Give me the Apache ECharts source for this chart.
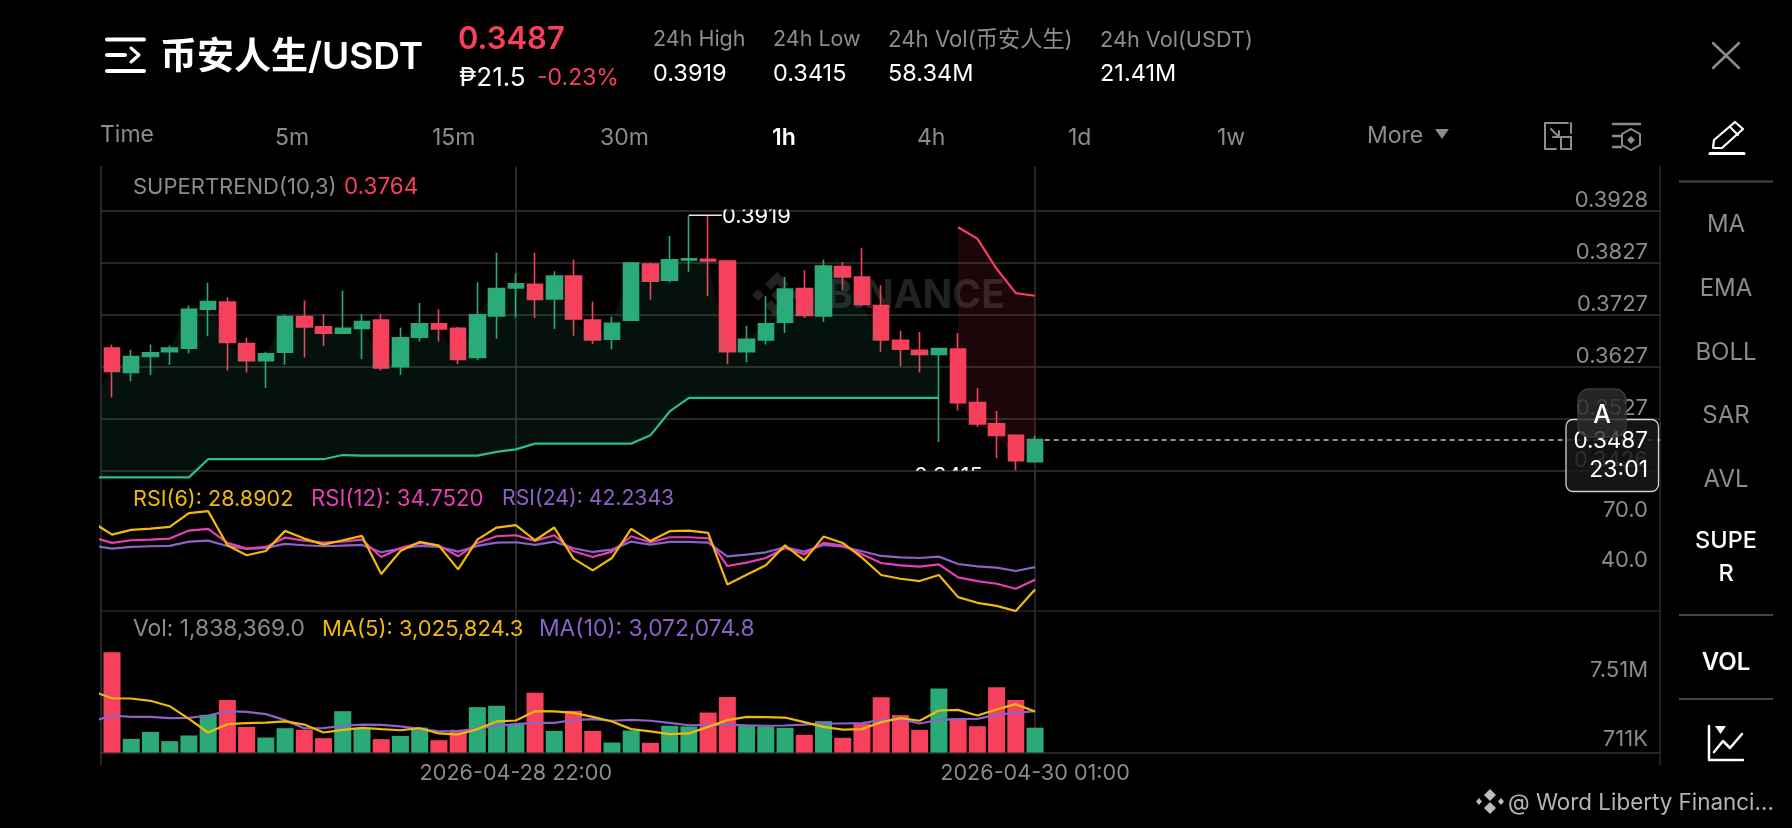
<!DOCTYPE html>
<html><head><meta charset="utf-8">
<style>html,body{margin:0;padding:0;background:#000}#c{width:1792px;height:828px}</style>
<script src="https://cdn.jsdelivr.net/npm/echarts@6/dist/echarts.min.js"></script>
</head><body><div id="c"></div>
<script>
// ---- data ----
const opens  = [.3663,.3616,.3647,.3656,.3663,.3738,.3752,.3672,.3639,.3655,.3724,.3704,.3692,.3701,.3717,.3627,.3684,.3710,.3701,.3645,.3725,.3779,.3786,.3758,.3802,.3717,.3680,.3717,.3825,.3794,.3833,.3834,.3831,.3656,.3679,.3713,.3778,.3725,.3820,.3800,.3745,.3678,.3659,.3651,.3661,.3558,.3517,.3495,.3444];
const closes = [.3618,.3647,.3654,.3663,.3738,.3753,.3674,.3639,.3652,.3724,.3704,.3692,.3701,.3714,.3625,.3683,.3710,.3700,.3641,.3727,.3778,.3787,.3757,.3802,.3719,.3679,.3711,.3827,.3792,.3833,.3835,.3831,.3656,.3680,.3710,.3777,.3726,.3821,.3800,.3747,.3679,.3661,.3651,.3662,.3558,.3517,.3495,.3446,.3487];
const lows   = [.3568,.3599,.3611,.3631,.3653,.3686,.3620,.3616,.3586,.3631,.3645,.3667,.3690,.3642,.3620,.3611,.3676,.3676,.3632,.3640,.3681,.3722,.3721,.3700,.3687,.3671,.3661,.3715,.3756,.3790,.3810,.3763,.3632,.3636,.3670,.3692,.3721,.3714,.3775,.3744,.3656,.3628,.3616,.3482,.3543,.3511,.3451,.3427,.3444];
const highs  = [.3670,.3660,.3670,.3668,.3745,.3789,.3761,.3683,.3656,.3728,.3755,.3729,.3774,.3729,.3729,.3703,.3750,.3738,.3704,.3790,.3847,.3808,.3847,.3811,.3834,.3753,.3724,.3829,.3828,.3879,.3919,.3919,.3832,.3706,.3763,.3800,.3813,.3834,.3829,.3856,.3784,.3697,.3694,.3662,.3692,.3586,.3542,.3497,.3494];
const priorClose = .3572;   // close of the candle just left of the window (index -1)
const trendUp = [.3414,.3414,.3414,.3414,.3414,.3414,.3449,.3449,.3449,.3449,.3449,.3449,.3449,.3457,.3456,.3456,.3456,.3456,.3456,.3456,.3456,.3463,.3468,.3479,.3479,.3479,.3479,.3479,.3479,.3495,.3541,.3567,.3567,.3567,.3567,.3567,.3567,.3567,.3567,.3567,.3567,.3567,.3567,.3567,.3567]; // index -1..43
const trendDown = [.3896,.3874,.3816,.3769,.3764]; // index 44..48
const rsi6  = [68.9,61.7,64.5,65.3,66.3,74.5,75.7,55.3,49.3,51.9,63.9,59.3,55.7,58.3,60.9,38.1,51.9,57.3,55.1,40.9,58.7,65.9,67.3,58.3,65.9,47.3,40.3,47.7,65.1,57.9,63.7,64.1,62.7,31.9,37.7,43.3,55.3,46.3,60.5,56.7,47.9,37.5,35.3,33.9,37.5,24.3,20.9,19.1,16.0,28.89]; // index -1..48
const rsi12 = [60.1,56.7,58.3,58.7,59.3,64.1,65.1,56.7,53.3,54.3,59.9,58.1,56.9,57.5,58.7,48.3,53.7,56.7,55.1,48.7,56.7,60.7,61.3,57.9,61.3,51.7,48.3,51.5,60.7,57.1,60.1,60.1,59.5,42.9,44.9,47.7,53.7,49.9,56.7,55.1,49.9,44.7,43.3,42.5,43.9,36.1,33.9,32.3,29.3,34.75];
const rsi24 = [55.1,53.3,54.3,54.7,54.9,57.5,58.1,54.9,53.1,53.7,56.1,55.3,54.7,55.1,55.5,51.1,53.3,54.9,54.3,51.5,54.9,56.9,57.1,55.5,57.5,53.5,51.3,52.7,57.5,55.7,57.3,57.3,56.9,48.7,49.7,51.1,54.1,51.5,55.5,54.5,51.7,48.9,48.1,47.7,48.5,44.1,42.7,41.9,39.9,42.23];
const volumes = [7.43,1.01,1.53,.84,1.26,2.79,3.88,1.90,1.11,1.80,1.68,1.06,3.06,1.83,.99,1.23,1.85,.91,1.68,3.36,3.46,2.10,4.42,1.60,3.09,1.60,.74,1.63,.72,1.98,1.93,2.96,4.12,2.05,1.93,1.83,1.31,2.32,1.09,2.15,4.10,2.77,1.68,4.74,2.52,1.95,4.84,3.88,1.838];
const volMa5  = [4.52,4.02,4.00,3.83,3.43,2.49,1.48,2.10,2.17,2.22,2.30,2.07,1.48,1.68,1.83,1.73,1.65,1.80,1.41,1.33,1.73,2.30,2.37,3.06,3.04,2.94,2.64,2.30,1.73,1.56,1.36,1.41,1.90,2.40,2.64,2.62,2.59,2.25,1.90,1.70,1.73,2.25,2.54,2.35,3.11,3.16,2.74,3.19,3.58,3.03]; // index -1..48
const volMa10 = [2.32,2.74,2.64,2.64,2.54,2.57,2.74,3.06,3.01,2.84,2.40,1.78,1.80,1.98,2.07,2.05,1.93,1.75,1.56,1.58,1.78,1.95,2.10,2.20,2.20,2.40,2.47,2.35,2.42,2.35,2.20,2.02,2.05,2.07,2.02,1.98,2.00,2.07,2.15,2.15,2.17,2.40,2.47,2.15,2.42,2.47,2.49,2.81,2.94,3.07];
const priceTicks = [.3928,.3827,.3727,.3627,.3527,.3426];
const rsiTicks = [70,40];
const volTicks = [.711,7.51];
const volTickLabels = ['711K','7.51M'];
const timeTicks = {21:'2026-04-28 22:00',48:'2026-04-30 01:00'};
const lastPrice = .3487, highPrice = .3919, lowPrice = .3415;

const headerPeriods = ['Time','5m','15m','30m','1h','4h','1d','1w','More'];
const indicators = ['MA','EMA','BOLL','SAR','AVL'];

// ---- palette ----
const UP='#2BAA78', DOWN='#F6405C', LINE_UP='#2DBE8A', GRAY='#8C8C8C', WHITE='#FFFFFF',
      YEL='#F0B90B', MAG='#E83FB4', PUR='#8A63C8', GRID='#333333', FONT='Inter, "Noto Sans CJK SC", "DejaVu Sans", sans-serif';

const chart = echarts.init(document.getElementById('c'), null, {renderer:'canvas', width:1792, height:828});

const xMin=-0.572, xMax=80.5;
const idxFrom = (a,s) => a.map((v,i)=>[i+s,v]);
const closeExt=[priorClose].concat(closes);
const xTicks=Object.keys(timeTicks).map(Number);

function xAxis(g,extra){return Object.assign({type:'value',gridIndex:g,min:xMin,max:xMax,
  axisTick:{show:false,customValues:xTicks},
  axisLabel:{show:false,customValues:xTicks},
  axisLine:{show:false},
  splitLine:{show:true,lineStyle:{color:GRID,width:1.5}}},extra||{});}
function yAxis(g,min,max,ticks,fmt,extra){return Object.assign({type:'value',gridIndex:g,min,max,position:'right',scale:true,
  axisTick:{show:false,customValues:ticks},
  axisLine:{show:false},
  axisLabel:{inside:true,margin:12,customValues:ticks,formatter:fmt,color:GRAY,fontSize:22,fontFamily:FONT,verticalAlign:'bottom',lineHeight:21,align:'right'},
  splitLine:{show:false}},extra||{});}

// translucent band between two polylines, both read through the axes
function band(lower,upper,start,color){
  return {type:'custom',xAxisIndex:0,yAxisIndex:0,z:3,clip:true,silent:true,
    data:[[start,lower[0]]],
    renderItem(params,api){
      const lo=lower.map((v,i)=>api.coord([i+start,v]));
      const hi=upper.map((v,i)=>api.coord([i+start,v])).reverse();
      return {type:'polygon',shape:{points:lo.concat(hi)},style:{fill:color}};
    }};
}

const series=[
 {type:'candlestick',xAxisIndex:0,yAxisIndex:0,z:2,barWidth:16,clip:true,
  itemStyle:{color:UP,color0:DOWN,borderColor:UP,borderColor0:DOWN,borderWidth:1.6},
  encode:{x:0,y:[1,2,3,4]},
  data:opens.map((o,i)=>[i,o,closes[i],lows[i],highs[i]]),
  markLine:{silent:true,symbol:'none',label:{show:false},animation:false,
    lineStyle:{type:[5,4],color:'#C8C8C8',width:1.5},
    data:[[{coord:[48.5,lastPrice]},{coord:[xMax,lastPrice]}]]}},
 band(trendUp,closeExt.slice(0,trendUp.length),-1,'rgba(45,190,138,0.09)'),
 band(closes.slice(44),trendDown,44,'rgba(246,64,92,0.11)'),
 {type:'line',name:'trendUp',xAxisIndex:0,yAxisIndex:0,z:4,showSymbol:false,clip:true,
  lineStyle:{color:LINE_UP,width:2.2},data:idxFrom(trendUp,-1)},
 {type:'line',name:'trendDown',xAxisIndex:0,yAxisIndex:0,z:4,showSymbol:false,clip:true,
  lineStyle:{color:DOWN,width:2.2},data:idxFrom(trendDown,44)},
 // high / low annotations
 {type:'custom',xAxisIndex:0,yAxisIndex:0,z:6,clip:false,
  data:[[30,highPrice,1],[47,lowPrice,-1]],
  renderItem(params,api){
    const p=api.coord([api.value(0),api.value(1)]), dir=api.value(2);
    const val=api.value(1).toFixed(4);
    if(dir>0){
      return {type:'group',children:[
        {type:'line',shape:{x1:p[0],y1:p[1],x2:p[0]+33,y2:p[1]},style:{stroke:'#E6E6E6',lineWidth:1.5}},
        {type:'text',clipPath:{type:'rect',shape:{x:p[0],y:209.5,width:120,height:30}},
         style:{text:val,x:p[0]+33,y:p[1]+1.5,fill:WHITE,font:'22px '+FONT,verticalAlign:'middle',textAlign:'left'}}]};
    }
    return {type:'text',clipPath:{type:'rect',shape:{x:p[0]-120,y:p[1]-20,width:120,height:14}},
      style:{text:val,x:p[0]-33,y:p[1],fill:WHITE,font:'22px '+FONT,verticalAlign:'middle',textAlign:'right'}};
  }},
 // RSI
 {type:'line',xAxisIndex:1,yAxisIndex:1,showSymbol:false,z:3,clip:true,lineStyle:{color:PUR,width:2.2},data:idxFrom(rsi24,-1)},
 {type:'line',xAxisIndex:1,yAxisIndex:1,showSymbol:false,z:4,clip:true,lineStyle:{color:MAG,width:2.2},data:idxFrom(rsi12,-1)},
 {type:'line',xAxisIndex:1,yAxisIndex:1,showSymbol:false,z:5,clip:true,lineStyle:{color:YEL,width:2.2},data:idxFrom(rsi6,-1)},
 // Volume
 {type:'bar',xAxisIndex:2,yAxisIndex:2,barWidth:17,z:2,
  data:volumes.map((v,i)=>({value:[i,v],itemStyle:{color:closes[i]>=opens[i]?UP:DOWN}}))},
 {type:'line',xAxisIndex:2,yAxisIndex:2,showSymbol:false,z:4,clip:true,lineStyle:{color:YEL,width:2.2},data:idxFrom(volMa5,-1)},
 {type:'line',xAxisIndex:2,yAxisIndex:2,showSymbol:false,z:3,clip:true,lineStyle:{color:PUR,width:2.2},data:idxFrom(volMa10,-1)}
];

// ---- page furniture (decorative, not data) ----
const g=[];
const T=(text,x,y,size,fill,opt)=>g.push(Object.assign({type:'text',z:50,style:Object.assign({text,x,y,fill,
  font:((opt&&opt.weight)||'400')+' '+size+'px '+FONT,textAlign:(opt&&opt.align)||'left',textVerticalAlign:'middle',verticalAlign:'middle'})}));
const L=(pts,stroke,w,z)=>g.push({type:'polyline',z:z||50,shape:{points:pts},style:{stroke,lineWidth:w,fill:null,lineCap:'round',lineJoin:'round'}});
const LB=(pts,stroke,w,z)=>g.push({type:'polyline',z:z||50,shape:{points:pts},style:{stroke,lineWidth:w,fill:null,lineCap:'butt'}});
const P=(pts,fill,z)=>g.push({type:'polygon',z:z||50,shape:{points:pts},style:{fill}});

// frame
LB([[101,166],[101,765]],GRID,1.5,1); LB([[1660,166],[1660,765]],'#2A2A2A',1.5,1);

// header
L([[107,39.5],[144,39.5]],WHITE,4); L([[107,55],[125,55]],WHITE,4); L([[107,71],[144,71]],WHITE,4);
L([[131,48],[139,55],[131,62]],WHITE,3);
T('币安人生/USDT',160,58,37,WHITE,{weight:'600'});
T('0.3487',458,40,31,DOWN,{weight:'600'});
T('₱21.5',459,78,26,WHITE);
T('-0.23%',537,78,23,DOWN);
[['24h High','0.3919',653,21.5],['24h Low','0.3415',773,21.5],['24h Vol(币安人生)','58.34M',888,22.2],['24h Vol(USDT)','21.41M',1100,21.7]]
 .forEach(([a,b,x,s])=>{T(a,x,40,s,GRAY);T(b,x,74,23.5,WHITE);});
L([[1713,43],[1739,68]],GRAY,2.5); L([[1739,43],[1713,68]],GRAY,2.5);

// period tabs
[[100,135],[275,138],[432,138],[600,138],[772,138],[917,138],[1068,138],[1217,138],[1367,136]].forEach((p,i)=>{
  T(headerPeriods[i],p[0],p[1],23,i==4?WHITE:GRAY,{weight:i==4?'600':'400'});
});
P([[1435,129],[1449,129],[1442,139]],GRAY);
// toolbar icons
L([[1568,123],[1545,123],[1545,149],[1556,149]],GRAY,2); L([[1571,123],[1571,133]],GRAY,2);
g.push({type:'rect',z:50,shape:{x:1561,y:137,width:10,height:12},style:{stroke:GRAY,lineWidth:2,fill:null}});
L([[1551,129],[1559,137]],GRAY,2); L([[1553,137],[1559,137],[1559,131]],GRAY,2);
L([[1613,124],[1640,124]],GRAY,2.5); L([[1613,136],[1621,136]],GRAY,2.5); L([[1613,147],[1621,147]],GRAY,2.5);
g.push({type:'polygon',z:50,shape:{points:[[1631,129],[1640,134],[1640,145],[1631,150],[1622,145],[1622,134]]},style:{stroke:GRAY,lineWidth:2,fill:null}});
P([[1631,136],[1635,140],[1631,144],[1627,140]],GRAY);
// pencil
g.push({type:'polygon',z:50,shape:{points:[[1735,122],[1743,129],[1722,148],[1713,148],[1714,140]]},style:{stroke:WHITE,lineWidth:2.2,fill:null,lineJoin:'round'}});
L([[1730,127],[1738,135]],WHITE,2);
L([[1710,153.5],[1744,153.5]],WHITE,3);

// panel legends
T('SUPERTREND(10,3)',133,187,22,GRAY); T('0.3764',344,187,22.5,DOWN);
T('RSI(6): 28.8902',133,499,21.6,YEL); T('RSI(12): 34.7520',311,499,22.2,MAG); T('RSI(24): 42.2343',502,499,21.2,PUR);
T('Vol: 1,838,369.0',133,629,22.8,GRAY); T('MA(5): 3,025,824.3',322,629,22,YEL); T('MA(10): 3,072,074.8',539,629,22.8,PUR);

// watermark
const wm='#222222';
P([[777,272],[789,284],[783,290],[777,284],[771,290],[765,284]],wm,1);
P([[777,318],[765,306],[771,300],[777,306],[783,300],[789,306]],wm,1);
P([[777,289],[783,295],[777,301],[771,295]],wm,1);
P([[758,289],[764,295],[758,301],[752,295]],wm,1);
P([[796,289],[802,295],[796,301],[790,295]],wm,1);
g.push({type:'text',z:1,style:{text:'BINANCE',x:827,y:296,fill:wm,font:'700 39px '+FONT,textVerticalAlign:'middle',verticalAlign:'middle',textAlign:'left'}});

// A button and price tag
g.push({type:'rect',z:60,shape:{x:1566,y:419.5,width:92.5,height:72,r:7},style:{fill:'rgba(24,24,24,0.82)',stroke:'#D0D0D0',lineWidth:1.3}});
g.push({type:'text',z:61,style:{text:'0.3487',x:1648,y:441,fill:WHITE,font:'400 22.5px '+FONT,textAlign:'right',verticalAlign:'middle'}});
g.push({type:'text',z:61,style:{text:'23:01',x:1648,y:470,fill:WHITE,font:'400 23px '+FONT,textAlign:'right',verticalAlign:'middle'}});
g.push({type:'rect',z:62,shape:{x:1578,y:389,width:48,height:48,r:11},style:{fill:'rgba(44,44,44,0.82)',stroke:'#3A3A3A',lineWidth:1.3}});
g.push({type:'text',z:63,style:{text:'A',x:1602,y:415,fill:WHITE,font:'500 25px '+FONT,textAlign:'center',verticalAlign:'middle'}});

// right menu
LB([[1679,181.5],[1773,181.5]],'#444',2);
[225,289,353,416,480].forEach((y,i)=>T(indicators[i],1726,y,24,GRAY,{align:'center'}));
T('SUPE',1726,541,23.5,WHITE,{align:'center',weight:'500'}); T('R',1726,574,23.5,WHITE,{align:'center',weight:'500'});
LB([[1679,615],[1773,615]],'#444',2);
T('VOL',1726,663,24,WHITE,{align:'center',weight:'600'});
LB([[1679,699],[1773,699]],'#444',2);
L([[1709,726],[1709,760],[1743,760]],WHITE,2.5);
L([[1714,752],[1723,741],[1730,748],[1742,734]],WHITE,2.5);
P([[1715,726],[1726,726],[1720.5,734]],WHITE);

// footer
const fg='#BDBDBD';
P([[1490,789],[1496,795],[1490,801],[1484,795]],fg);
P([[1490,814],[1496,808],[1490,802],[1484,808]],fg);
P([[1479,798],[1482,801.5],[1479,805],[1476,801.5]],fg);
P([[1501,798],[1504,801.5],[1501,805],[1498,801.5]],fg);
T('@ Word Liberty Financi...',1508,803,22.4,'#B4B4B4');

chart.setOption({
  backgroundColor:'#000',animation:false,
  grid:[{left:101,width:1559,top:166.6,height:314},{left:101,width:1559,top:470.5,height:140.5},{left:101,width:1559,top:611,height:141.5}],
  xAxis:[xAxis(0),
    xAxis(1,{axisLine:{show:true,onZero:false,lineStyle:{color:'#262626',width:1.5}}}),
    xAxis(2,{axisLine:{show:true,onZero:false,lineStyle:{color:GRID,width:1.5}},
      axisLabel:{show:true,customValues:xTicks,margin:10.5,color:GRAY,fontSize:21.6,fontFamily:FONT,formatter:v=>timeTicks[v]||''}})],
  yAxis:[
    yAxis(0,.3928-270/5190,.3928+44/5190,priceTicks,v=>v.toFixed(4),{splitLine:{show:true,lineStyle:{color:GRID,width:1.5}}}),
    yAxis(1,16,100,rsiTicks,v=>v.toFixed(1)),
    {type:'value',gridIndex:2,min:0,max:141.5/13.5,show:false},
    yAxis(2,.465,.465+141.5/10.15,volTicks,v=>volTickLabels[volTicks.indexOf(v)]||'')
  ],
  series,graphic:{elements:g}
});
</script></body></html>
